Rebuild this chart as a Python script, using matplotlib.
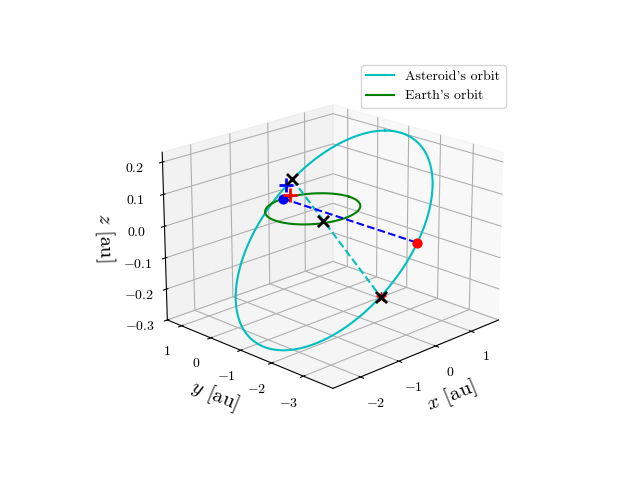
import numpy as np
import matplotlib
matplotlib.use("Agg")
import matplotlib.pyplot as plt

plt.rcParams.update({"font.family": "serif", "font.serif": ["cmr10"],
                     "mathtext.fontset": "cm", "axes.formatter.use_mathtext": True,
                     "axes.unicode_minus": True})

# asteroid orbit: centre, two conjugate semi-axis vectors [au]
orbit_center = [-0.46, -1.30, -0.03]
orbit_u = [1.96, 0.72, 0.243]
orbit_v = [1.125, -1.35, 0.0]
earth_radius = 1.0

# orbit parameters (deg) of marked points
t_node_a = -57.7
t_node_b = 122.3
t_asteroid = 93.0
earth_angle = 90.0
mid_fraction = 0.36
plus_blue = [-0.05, 0.84, 0.05]
plus_red = [-0.02, 0.74, 0.02]

xticks = [-2, -1, 0, 1]
yticks = [-3, -2, -1, 0, 1]
zticks = [-0.3, -0.2, -0.1, 0.0, 0.1, 0.2]

C = np.array(orbit_center); U = np.array(orbit_u); V = np.array(orbit_v)
def orb(tdeg):
    t = np.radians(np.atleast_1d(tdeg))
    return C[:, None] + U[:, None]*np.cos(t) + V[:, None]*np.sin(t)

fig = plt.figure(figsize=(6.4, 4.8), dpi=100)
ax = fig.add_subplot(projection="3d")
ax.view_init(elev=20, azim=-135)

ring = orb(np.linspace(0, 360, 500))
ax.plot(ring[0], ring[1], ring[2], color="c", label="Asteroid's orbit")
th = np.linspace(0, 2*np.pi, 400)
ax.plot(earth_radius*np.cos(th), earth_radius*np.sin(th), 0*th, color="g", label="Earth's orbit")

pa = orb(t_node_a)[:, 0]; pb = orb(t_node_b)[:, 0]
pm = pa + mid_fraction*(pb - pa)
ax.plot([pa[0], pb[0]], [pa[1], pb[1]], [pa[2], pb[2]], "c--")
ea = np.radians(earth_angle)
ep = np.array([earth_radius*np.cos(ea), earth_radius*np.sin(ea), 0.0])
ap = orb(t_asteroid)[:, 0]
ax.plot([ep[0], ap[0]], [ep[1], ap[1]], [ep[2], ap[2]], "b--")
ax.scatter(*ep, color="b", s=40, depthshade=False)
ax.scatter(*ap, color="r", s=40, depthshade=False)
ax.scatter(*plus_blue, color="b", marker="+", s=90, linewidths=2, depthshade=False)
ax.scatter(*plus_red, color="r", marker="+", s=90, linewidths=2, depthshade=False)
ax.scatter(*pb, color="r", marker="*", s=50, depthshade=False)
for p in (pa, pb, pm):
    ax.scatter(*p, color="k", marker="x", s=64, linewidths=2, depthshade=False)

ax.set_xlim(-2.7, 1.8); ax.set_ylim(-3.9, 1.5); ax.set_zlim(-0.3, 0.23)
ax.set_xticks(xticks)
ax.set_yticks(yticks)
ax.set_zticks(zticks)
ax.set_xlabel("$x$ [au]", fontsize=15)
ax.set_ylabel("$y$ [au]", fontsize=15)
ax.set_zlabel("$z$ [au]", fontsize=15)
ax.legend(loc="upper right", bbox_to_anchor=(0.801, 0.88), bbox_transform=fig.transFigure)
fig.savefig("out.png")
